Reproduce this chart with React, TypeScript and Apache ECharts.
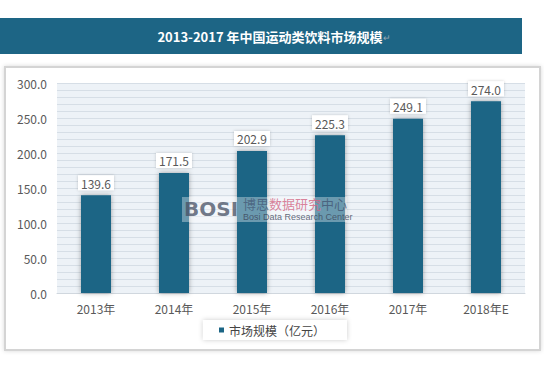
import React, { useEffect, useRef } from "react";
import * as echarts from "echarts";

const categories = ["2013年", "2014年", "2015年", "2016年", "2017年", "2018年E"];
const marketSize = [139.6, 171.5, 202.9, 225.3, 249.1, 274.0];
const seriesName = "市场规模（亿元）";
const titleText = "2013-2017 年中国运动类饮料市场规模";

export default function App() {
  const ref = useRef<HTMLDivElement>(null);
  useEffect(() => {
    if (!ref.current) return;
    const chart = echarts.init(ref.current, null, { renderer: "svg" });
    const font = "'Noto Sans CJK SC', 'Liberation Sans', sans-serif";
    const wm = (x: number, y: number, text: string, fill: string, f: string) => ({
      type: "text",
      x,
      y,
      z: 100,
      zlevel: 1,
      style: { text, fill, font: f },
    });
    chart.setOption({
      animation: false,
      backgroundColor: "#ffffff",
      textStyle: { fontFamily: font },
      graphic: [
        {
          type: "rect",
          shape: { x: 0, y: 18, width: 522, height: 36 },
          style: { fill: "#1d6585" },
          z: 0,
        },
        {
          type: "text",
          x: 270,
          y: 36,
          style: {
            text: titleText,
            fill: "#ffffff",
            font: "bold 13px 'Noto Sans CJK SC', sans-serif",
            textAlign: "center",
            textVerticalAlign: "middle",
          },
          z: 1,
        },
        {
          type: "text",
          x: 383,
          y: 38,
          style: {
            text: "↵",
            fill: "#9aa8b2",
            font: "9px sans-serif",
            textAlign: "left",
            textVerticalAlign: "middle",
          },
          z: 1,
        },
        {
          type: "rect",
          shape: { x: 5, y: 67, width: 535, height: 283 },
          style: {
            fill: "#ffffff",
            stroke: "#d4d4d4",
            lineWidth: 2,
            shadowBlur: 4,
            shadowColor: "rgba(0,0,0,0.15)",
          },
          z: -10,
        },
        {
          type: "rect",
          shape: { x: 57, y: 83, width: 468, height: 210 },
          style: { fill: "#edf2f7" },
          z: -5,
        },
        {
          type: "rect",
          shape: { x: 182, y: 197, width: 165, height: 25 },
          style: { fill: "rgba(255,255,255,0.35)" },
          z: 99,
          zlevel: 1,
        },
        wm(184, 199, "BOSI", "rgba(70,80,100,0.75)", "bold 20px 'DejaVu Sans', sans-serif"),
        wm(243, 197, "博思", "rgba(70,90,120,0.8)", "13px 'Noto Sans CJK SC', sans-serif"),
        wm(269, 197, "数据研究", "rgba(210,100,130,0.8)", "13px 'Noto Sans CJK SC', sans-serif"),
        wm(321, 197, "中心", "rgba(70,90,120,0.85)", "13px 'Noto Sans CJK SC', sans-serif"),
        wm(243, 212, "Bosi Data Research Center", "rgba(60,70,90,0.8)", "9px 'Liberation Sans Narrow', 'Liberation Sans', sans-serif"),
      ],
      legend: {
        show: true,
        bottom: 33,
        left: "center",
        data: [{ name: seriesName, icon: "rect" }],
        itemWidth: 5,
        itemHeight: 5,
        itemGap: 4,
        backgroundColor: "#ffffff",
        shadowColor: "rgba(0,0,0,0.2)",
        shadowBlur: 5,
        padding: [4, 22, 4, 16],
        textStyle: { color: "#444444", fontSize: 12, fontFamily: font },
      },
      grid: { left: 57, right: 19, top: 83, bottom: 80 },
      xAxis: {
        type: "category",
        data: categories,
        axisLine: { show: true, lineStyle: { color: "#d0d7de" } },
        axisTick: { show: false },
        axisLabel: { color: "#595959", fontSize: 12, margin: 9, fontFamily: font },
      },
      yAxis: {
        type: "value",
        min: 0,
        max: 300,
        interval: 50,
        axisLine: { show: false },
        axisTick: { show: false },
        axisLabel: {
          color: "#595959",
          fontSize: 12,
          margin: 10,
          fontFamily: font,
          formatter: (v: number) => v.toFixed(1),
        },
        splitLine: { show: true, lineStyle: { color: "#d6dee6", width: 1 } },
        minorTick: { show: false, splitNumber: 5 },
        minorSplitLine: { show: true, lineStyle: { color: "#d6dee6", width: 1 } },
      },
      series: [
        {
          name: seriesName,
          type: "bar",
          data: marketSize,
          barWidth: 30,
          itemStyle: {
            color: "#1b6585",
            shadowColor: "rgba(0,0,0,0.35)",
            shadowBlur: 5,
            shadowOffsetX: 0,
          },
          label: {
            show: true,
            position: "top",
            distance: 5,
            color: "#595959",
            fontSize: 12,
            fontFamily: font,
            backgroundColor: "#ffffff",
            padding: [2, 3, 1, 3],
            shadowColor: "rgba(0,0,0,0.2)",
            shadowBlur: 3,
            formatter: (p: any) => Number(p.value).toFixed(1),
          },
        },
      ],
    });
    return () => chart.dispose();
  }, []);
  return (
    <div
      ref={ref}
      style={{ position: "fixed", left: 0, top: 0, width: 544, height: 373 }}
    />
  );
}
